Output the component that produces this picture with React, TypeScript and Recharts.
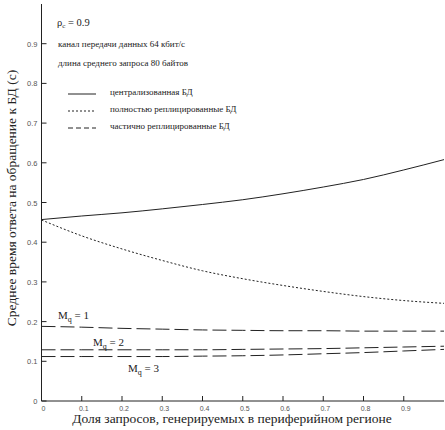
import React from 'react';
import { LineChart, Line, XAxis, YAxis } from 'recharts';

// values
const shareX = [0, 0.1, 0.2, 0.3, 0.4, 0.5, 0.6, 0.7, 0.8, 0.9, 1.0];
const centralized = [0.457, 0.466, 0.474, 0.484, 0.495, 0.507, 0.522, 0.539, 0.558, 0.582, 0.608];
const fullyReplicated = [0.456, 0.416, 0.383, 0.354, 0.328, 0.308, 0.291, 0.276, 0.263, 0.253, 0.246];
const partialMq1 = [0.188, 0.186, 0.183, 0.181, 0.179, 0.178, 0.177, 0.177, 0.176, 0.176, 0.176];
const partialMq2 = [0.129, 0.129, 0.129, 0.129, 0.129, 0.13, 0.131, 0.132, 0.134, 0.136, 0.138];
const partialMq3 = [0.112, 0.112, 0.112, 0.112, 0.113, 0.114, 0.116, 0.119, 0.122, 0.126, 0.13];

const xTicks = [0, 0.1, 0.2, 0.3, 0.4, 0.5, 0.6, 0.7, 0.8, 0.9];
const yTicks = [0, 0.1, 0.2, 0.3, 0.4, 0.5, 0.6, 0.7, 0.8, 0.9];

const notes = ['канал передачи данных 64 кбит/с', 'длина среднего запроса  80 байтов'];
const legendItems = [
  { label: 'централизованная БД', dash: undefined },
  { label: 'полностью реплицированные БД', dash: '2 2' },
  { label: 'частично реплицированные БД', dash: '5 3' },
];

const data = shareX.map((x, i) => ({
  x,
  central: centralized[i],
  full: fullyReplicated[i],
  mq1: partialMq1[i],
  mq2: partialMq2[i],
  mq3: partialMq3[i],
}));

const INK = '#222';
const SERIF = '"Liberation Serif", "Times New Roman", serif';
const SANS = '"Liberation Sans", Arial, sans-serif';
const TICK = 5;

const fmt = (v: number) => (v === 0 ? '0' : v.toFixed(1));

const BottomTick = (props: any) => {
  const { x, y, payload } = props;
  return (
    <g>
      <line x1={x} x2={x} y1={y} y2={y - TICK} stroke={INK} />
      <text x={x + 2} y={y + 9.5} textAnchor="middle" fontSize={7} fill="#555" fontFamily={SANS}>
        {fmt(payload.value)}
      </text>
    </g>
  );
};

const LeftTick = (props: any) => {
  const { x, y, payload } = props;
  return (
    <g>
      <line x1={x} x2={x + TICK} y1={y} y2={y} stroke={INK} />
      <text x={x - 4} y={y + 3} textAnchor="end" fontSize={7.5} fill="#555" fontFamily={SANS}>
        {fmt(payload.value)}
      </text>
    </g>
  );
};

const TopTick = (props: any) => {
  const { x, y } = props;
  return <line x1={x} x2={x} y1={y} y2={y + TICK + 2} stroke={INK} />;
};

const RightTick = (props: any) => {
  const { x, y } = props;
  return <line x1={x} x2={x - TICK} y1={y} y2={y} stroke={INK} />;
};

const MqLabel = ({ x, y, n }: { x: number; y: number; n: number }) => (
  <text x={x} y={y} fontSize={11} fill={INK} fontFamily={SERIF}>
    M<tspan dy={3} fontSize={8}>q</tspan>
    <tspan dy={-3}>{` = ${n}`}</tspan>
  </text>
);

export default function App() {
  return (
    <div style={{ position: 'absolute', left: 0, top: 0, width: 445, height: 430, background: '#fff' }}>
      <LineChart width={445} height={430} data={data} margin={{ top: 4, right: 1, bottom: 0, left: 0 }}>
        <XAxis
          xAxisId="b"
          dataKey="x"
          type="number"
          domain={[0, 1]}
          ticks={xTicks}
          height={29}
          tickSize={0}
          tickMargin={0}
          tick={<BottomTick />}
          axisLine={{ stroke: INK }}
          tickLine={false}
        />
        <XAxis
          xAxisId="t"
          orientation="top"
          dataKey="x"
          type="number"
          domain={[0, 1]}
          ticks={xTicks}
          height={0}
          tickSize={0}
          tickMargin={0}
          tick={<TopTick />}
          axisLine={{ stroke: INK }}
          tickLine={false}
        />
        <YAxis
          yAxisId="l"
          type="number"
          domain={[0, 1]}
          ticks={yTicks}
          width={41.5}
          tickSize={0}
          tickMargin={0}
          tick={<LeftTick />}
          axisLine={{ stroke: INK }}
          tickLine={false}
        />
        <YAxis
          yAxisId="r"
          orientation="right"
          type="number"
          domain={[0, 1]}
          ticks={yTicks}
          width={0}
          tickSize={0}
          tickMargin={0}
          tick={<RightTick />}
          axisLine={{ stroke: INK }}
          tickLine={false}
        />
        <Line xAxisId="b" yAxisId="l" dataKey="central" type="monotone" stroke={INK} strokeWidth={1} dot={false} isAnimationActive={false} />
        <Line xAxisId="b" yAxisId="l" dataKey="full" type="monotone" stroke={INK} strokeWidth={1} strokeDasharray="2 2" dot={false} isAnimationActive={false} />
        <Line xAxisId="b" yAxisId="l" dataKey="mq1" type="monotone" stroke={INK} strokeWidth={1} strokeDasharray="14 5" dot={false} isAnimationActive={false} />
        <Line xAxisId="b" yAxisId="l" dataKey="mq2" type="monotone" stroke={INK} strokeWidth={1} strokeDasharray="14 5" dot={false} isAnimationActive={false} />
        <Line xAxisId="b" yAxisId="l" dataKey="mq3" type="monotone" stroke={INK} strokeWidth={1} strokeDasharray="14 5" dot={false} isAnimationActive={false} />

        <g>
          <text x={57} y={26} fontSize={10.5} fill={INK} fontFamily={SERIF}>
            ρ<tspan dy={2} fontSize={7}>c</tspan>
            <tspan dy={-2}> = 0.9</tspan>
          </text>
          {notes.map((t, i) => (
            <text key={t} x={58} y={47 + i * 19} fontSize={9} fill={INK} fontFamily={SERIF}>
              {t}
            </text>
          ))}
          {legendItems.map((it, i) => (
            <g key={it.label}>
              <line x1={68} x2={96} y1={94 + i * 17} y2={94 + i * 17} stroke={INK} strokeDasharray={it.dash} />
              <text x={110} y={95 + i * 17} fontSize={9} fill={INK} fontFamily={SERIF}>
                {it.label}
              </text>
            </g>
          ))}
          <MqLabel x={58} y={319} n={1} />
          <MqLabel x={93} y={346} n={2} />
          <MqLabel x={128} y={372} n={3} />
          <text x={232} y={423} textAnchor="middle" fontSize={13.5} fill={INK} fontFamily={SERIF}>
            Доля запросов, генерируемых в периферийном регионе
          </text>
          <text x={16} y={198} textAnchor="middle" fontSize={13.5} fill={INK} fontFamily={SERIF} transform="rotate(-90, 16, 198)">
            Среднее время ответа на обращение к БД (с)
          </text>
        </g>
      </LineChart>
    </div>
  );
}
